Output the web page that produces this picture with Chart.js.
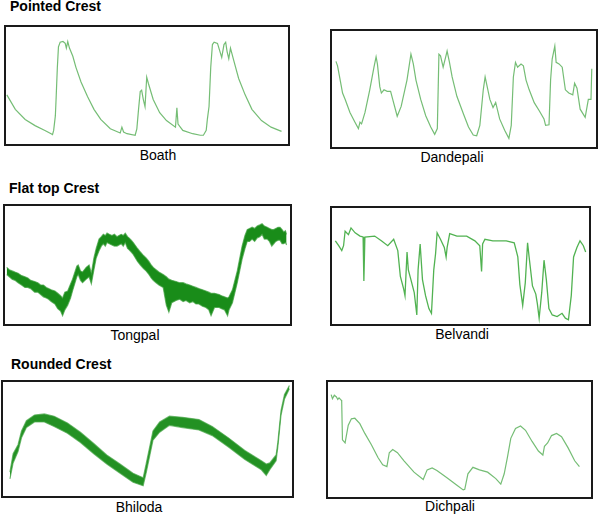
<!DOCTYPE html>
<html>
<head>
<meta charset="utf-8">
<script src="https://cdn.jsdelivr.net/npm/chart.js@4.4.1/dist/chart.umd.min.js"></script>
<style>
  html, body { margin: 0; padding: 0; background: #fff; }
  #wrap { position: relative; width: 600px; height: 515px; overflow: hidden; font-family: "Liberation Sans", Arial, sans-serif; }
  .box { position: absolute; border: 2px solid #1a1a1a; box-sizing: border-box; background: #fff; }
  .box canvas { position: absolute; left: 0; top: 0; }
  .title { position: absolute; font-weight: bold; font-size: 14px; line-height: 16px; color: #000; white-space: nowrap; }
  .lab { position: absolute; font-size: 14px; line-height: 16px; color: #000; white-space: nowrap; transform: translateX(-50%); }
</style>
</head>
<body>
<div id="wrap"></div>
<script>
// ---------- DATA (x in % of panel width, y in % of panel height) ----------
const sectionTitles = ["Pointed Crest", "Flat top Crest", "Rounded Crest"];
const stationNames = ["Boath", "Dandepali", "Tongpal", "Belvandi", "Bhiloda", "Dichpali"];

const boathX = [0.3,3.3,6.8,10.3,13.8,16,16.5,16.9,17.5,17.8,18.2,18.6,19.2,20.2,21,21.4,21.9,22.5,23.7,24.8,26.6,28.9,31.2,33.6,37,40.5,41.1,41.7,42.9,45.8,46.4,47,47.6,48.1,48.7,49.3,49.9,50.5,52.2,54.5,56.9,60.1,60.6,61,62.7,66.2,68.9,70,71,71.4,72,72.6,73.2,73.8,75,75.5,76.5,77.3,77.9,78.4,79,79.6,80.8,82.5,84.8,87.2,90.6,94,97.7];
const boathY = [42,29.6,21,15.7,11.6,8.8,8,11.6,24,40.6,65,83,87,87.6,86,82,87.6,82,75,65.5,53,40.6,29.6,21,13,9.4,14.4,10.2,8.8,7.5,13,29.6,44.8,46,38,32,57,51.7,38,26.8,20,14.4,31,17,11.6,8.8,7.5,7.5,11.6,21,32,65.5,85,87,86,82,74,85,87,79,73,82,71,56,42,29.6,20,14.4,10.8];

const dandeX = [1.5,2.1,3.1,4,5,6.8,8.7,10,10.6,11.2,12.5,14.3,15.9,16.7,17.2,18.1,18.7,19.7,20.9,22.2,23,24.7,26.2,28.4,29.9,30.8,31.8,33.6,35.5,37.4,38.9,39.9,40.5,41.1,42.1,43,43.6,44.5,45.5,47.3,49.8,51.7,53.5,54.8,56,57.3,58,58.5,59.8,61,62,63.5,65.4,67,67.9,68.7,69.5,70.3,71.6,72.5,73.5,74.7,76.6,78.5,80.3,80.9,82.2,82.8,83.4,84.4,84.9,86,87.2,88.4,89.7,91.2,91.9,92.8,94,95.9,97.1,98.1,98.4];
const dandeY = [73.8,70,57.7,46.5,41,29.8,21.4,15.9,21.4,20,29.8,49.3,68.8,77.7,71.6,52,46.5,49.3,48,48,41,26.5,35,57.7,80,71.6,57.7,41,27,17.3,10.9,15.9,80,78.6,68.8,77,82.7,73,60.4,43.7,28.4,17.3,10.3,9.7,18.7,49.3,60.4,55,41,34,38.4,24.2,14.5,7.5,18.7,60.4,73,68.8,71.6,70,57.7,49.3,38.2,31.2,24.2,18.7,19.2,57.7,75.8,87,73,71.6,68.8,49.3,46.5,45,55,50.7,32.6,25.6,41,41,67.4];

const tongX = [0.6,1.5,2.5,3.5,4.6,5.8,7,8,9,10.4,11.5,12.5,13.5,14.5,15.3,16.2,17.5,18.5,19.5,20.2,21,22,23,23.7,25.2,25.7,26.5,27.2,28.5,29.5,30.3,31.2,32,33,33.8,34.5,35.2,35.8,36.6,37.5,38.4,39.3,40,40.8,41.5,42.2,43,43.5,44.3,45,46.5,47.5,48.6,49.5,50.5,51.3,52,53,54,55.5,56.6,57.5,58.5,60,61.3,62.5,63.5,64.8,65.9,67,68,69.3,70.5,71.5,72.3,73.5,75.1,76,77,78.1,78.6,79.8,81.5,83.2,84.2,85,85.8,86.7,87.6,88.5,89.4,90.2,91,92,92.8,93.6,94.3,95,95.8,96.5,97.2,97.8,98.4,98.8];
const tongUpper = [48,46,45,44,43,41,40,39,37,36,35,33,33,31,30,29,28,26,24,22,27,28,34,38,49,50,45,44,48,50,43,56,64,72,74,76,75,77,76,75,76,74,75,76,75,77,74,73,71,69,64,61,58,56,53,50,48,46,44,42,40,38,37,36,35,35,34,33,32,31,30,29,28,27,26,26,25,24,23,22,23,29,45,66,75,80,81,82,81,83,84,85,83,82,81,80,80,81,82,82,80,78,79,76];
const tongLower = [42,40,38,37,35,33,31,31,30,27,27,25,23,22,21,19,17,13,11,7,12,16,22,28,40,42,37,35,38,40,34,46,56,62,66,68,66,69,68,67,66,66,67,68,66,69,64,63,61,59,53,50,47,45,42,39,37,35,33,31,16,10,18,20,21,19,20,18,19,17,17,15,14,12,7,14,14,13,12,7,12,18,35,55,64,70,70,72,70,73,74,76,72,72,70,66,68,70,71,71,68,68,69,67];

const belvX = [1.3,2.6,3.8,4.5,5.1,6.4,7.4,9,10.9,12.1,12.4,12.8,16.6,19.2,21.7,24,25.6,26.6,27.9,28.4,29.2,29.7,30.7,32,33,33.5,34.3,35.2,36.4,37.7,38.7,39.6,40.3,40.9,42.2,43.7,44.4,44.8,45.8,48.6,52.4,55.6,57.5,58.2,58.6,59.5,62.6,67.8,70.9,72.3,73.1,74.2,75.2,76.1,76.7,78,79.3,79.9,80.6,81.6,82.5,83.4,84.4,85.7,87.6,89.5,90.8,92,93.1,94,95.3,96.5,97.8,98.7];
const belvY = [71.7,67.5,63.3,67.5,80,77,82.8,78.6,75.8,75,37,75,75.8,71.7,67.5,73,63.3,41,30,24.4,62,46.7,38.3,27,7.8,46.7,69,38.3,24.4,13.3,9.2,46.7,60.6,78.6,73,66,57.8,66,78,75.8,75.8,71.7,67.5,45.3,69,73,71.7,71.7,70,57.8,34,16,35.5,70,57.8,32.8,25.8,17.5,5,27,55,38.3,13.3,7.8,6.4,9.2,5,3.6,24.4,57.8,66,71.7,67.5,62];

const bhilX = [2.4,3.5,5.2,6.4,8.1,10.9,14.3,17.7,22.3,26.8,31.4,35.9,40.5,45,48.5,49.6,51.9,54.2,57.6,62.1,67.8,72.4,78,83.7,89.4,91.1,92.3,94.5,95.1,96.2,97.4,99.1];
const bhilUpper = [21,37,45,57,66,71,72,70,64,56,46,36,28,20,16,29,57,65,70,69,67,61,51,40,31,28,29,36,47,75,89,97];
const bhilLower = [15,29,39,51,60,65,65,61,55,47,37,28,20,12,9,21,49,56,62,60,58,53,43,32,23,18,23,31,43,71,85,94];

const dichX = [1.2,1.7,2.4,3.2,3.7,4.2,5,5.2,5.5,6.5,7.7,8.9,10.2,12.1,14,16.5,19,20.8,22.4,23.3,24.6,26.4,28.9,32.7,36.2,37.7,39.6,41.4,45.1,48.9,51.4,52,53.2,55.1,57.6,60.7,63.8,65.7,67,68.2,69.5,71.3,73.2,75.1,77.6,80,81.7,82.3,83.5,85,86.9,88.8,91.3,93.8,95.6];
const dichY = [89,85.4,88.5,87,84.8,86.2,84.3,83.4,49.7,47,62.4,68,68.5,63.8,55.3,45.5,34.3,28,26.4,38.5,41.3,38.5,31.5,21.6,15.2,23.6,25.3,23,16.9,10.4,6.2,6.7,20.2,25.8,23.6,21.6,16,11.2,20.2,34.3,51,59.6,61.8,58,48.3,40,36.5,44,47,53.4,55.3,52.5,42.7,31.5,26.4];

// ---------- LAYOUT ----------
const wrap = document.getElementById('wrap');
function addText(cls, txt, left, top) {
  const d = document.createElement('div');
  d.className = cls; d.textContent = txt;
  d.style.left = left + 'px'; d.style.top = top + 'px';
  wrap.appendChild(d);
}
function pts(xs, ys) { return xs.map((x, i) => ({ x: x, y: ys[i] })); }

function makePanel(box, datasets) {
  const d = document.createElement('div');
  d.className = 'box';
  d.style.left = box[0] + 'px'; d.style.top = box[1] + 'px';
  d.style.width = box[2] + 'px'; d.style.height = box[3] + 'px';
  const c = document.createElement('canvas');
  c.width = box[2] - 4; c.height = box[3] - 4;
  c.style.width = (box[2] - 4) + 'px'; c.style.height = (box[3] - 4) + 'px';
  d.appendChild(c);
  wrap.appendChild(d);
  new Chart(c, {
    type: 'line',
    data: { datasets: datasets },
    options: {
      responsive: false, animation: false, events: [],
      layout: { padding: 0 },
      plugins: { legend: { display: false }, tooltip: { enabled: false } },
      elements: { point: { radius: 0 }, line: { tension: 0 } },
      scales: {
        x: { type: 'linear', min: 0, max: 100, display: false },
        y: { min: 0, max: 100, display: false }
      }
    }
  });
}
function lineDs(xs, ys, color, w) {
  return { data: pts(xs, ys), borderColor: color, borderWidth: w, fill: false };
}
function bandDs(xs, up, lo, color, edge) {
  return [
    { data: pts(xs, up), borderColor: edge, borderWidth: 1.2, fill: false },
    { data: pts(xs, lo), borderColor: edge, borderWidth: 1.2, fill: '-1', backgroundColor: color }
  ];
}

const light = 'rgba(110,185,110,0.95)';

addText('title', sectionTitles[0], 10, -2);
addText('title', sectionTitles[1], 9, 180);
addText('title', sectionTitles[2], 11, 356);

makePanel([4, 25, 286, 121], [lineDs(boathX, boathY, light, 1.2)]);
makePanel([330, 29, 268, 120], [lineDs(dandeX, dandeY, light, 1.2)]);
makePanel([3, 204, 289, 122], bandDs(tongX, tongUpper, tongLower, 'rgb(25,140,25)', 'rgba(60,160,60,0.7)'));
makePanel([330, 206, 261, 120], [lineDs(belvX, belvY, 'rgba(50,165,50,0.85)', 1.3)]);
makePanel([1, 380, 293, 118], bandDs(bhilX, bhilUpper, bhilLower, 'rgb(35,145,35)', 'rgba(70,165,70,0.7)'));
makePanel([326, 380, 267, 119], [lineDs(dichX, dichY, light, 1.2)]);

addText('lab', stationNames[0], 158, 147);
addText('lab', stationNames[1], 452, 149);
addText('lab', stationNames[2], 135, 327);
addText('lab', stationNames[3], 462, 326);
addText('lab', stationNames[4], 139, 499);
addText('lab', stationNames[5], 450, 498);
</script>
</body>
</html>
